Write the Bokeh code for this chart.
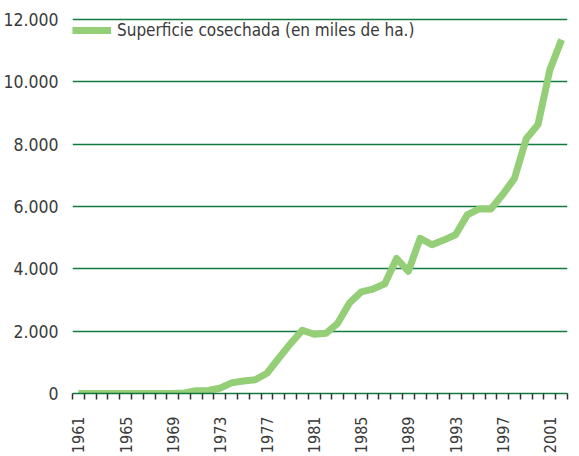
from bokeh.plotting import figure
from bokeh.models import FixedTicker, Range1d, Legend, LegendItem
from bokeh.embed import file_html
from bokeh.resources import INLINE

years = list(range(1961, 2003))
area = [0, 0, 0, 0, 0, 0, 0, 0, 0, 20,
        90, 100, 170, 340, 400, 440, 650, 1130, 1600, 2030,
        1900, 1930, 2250, 2900, 3260, 3350, 3520, 4330, 3920, 4980,
        4770, 4920, 5090, 5730, 5920, 5920, 6380, 6900, 8170, 8630,
        10380, 11350]
series_label = "Superficie cosechada (en miles de ha.)"
y_ticks = [0, 2000, 4000, 6000, 8000, 10000, 12000]
y_tick_labels = ["0", "2.000", "4.000", "6.000", "8.000", "10.000", "12.000"]
x_label_years = list(range(1961, 2002, 4))

FONT = "DejaVu Sans Condensed"
TEXT = "#3a3a3a"
GRID = "#127a3e"
LINE = "#94ce76"

p = figure(width=571, height=456, output_backend="svg", toolbar_location=None,
           x_range=Range1d(1960.5, 2002.5), y_range=Range1d(0, 12060),
           min_border_left=64, min_border_right=4, min_border_top=17,
           min_border_bottom=62)
p.outline_line_color = None
p.background_fill_color = "white"

r = p.line(years, area, line_color=LINE, line_width=7, line_join="round")

# x axis: tick marks at category boundaries, labels at category centres
xa = p.xaxis[0]
xa.ticker = FixedTicker(ticks=x_label_years,
                        minor_ticks=[y - 0.5 for y in range(1961, 2004)])
xa.major_label_overrides = {y: str(y) for y in x_label_years}
xa.major_label_orientation = 3.14159265 / 2
xa.major_tick_out = 0
xa.major_tick_in = 0
xa.minor_tick_out = 6
xa.minor_tick_in = 0
xa.minor_tick_line_color = "#333333"
xa.minor_tick_line_width = 1.5
xa.axis_line_color = GRID
xa.axis_line_width = 1.5
xa.major_label_standoff = 17
xa.major_label_text_font = FONT
xa.major_label_text_font_size = "16px"
xa.major_label_text_color = TEXT

# y axis
ya = p.yaxis[0]
ya.ticker = FixedTicker(ticks=y_ticks)
ya.major_label_overrides = {t: l for t, l in zip(y_ticks, y_tick_labels)}
ya.axis_line_color = None
ya.major_tick_line_color = None
ya.minor_tick_line_color = None
ya.major_label_standoff = 8
ya.major_label_text_font = FONT
ya.major_label_text_font_size = "17.5px"
ya.major_label_text_color = TEXT

p.xgrid.grid_line_color = None
p.ygrid.ticker = FixedTicker(ticks=y_ticks)
p.ygrid.grid_line_color = GRID
p.ygrid.grid_line_width = 1.3

legend = Legend(items=[LegendItem(label=series_label, renderers=[r])],
                location="top_left", margin=0, padding=0,
                glyph_width=39, glyph_height=26, label_standoff=6,
                label_text_font=FONT, label_text_font_size="17px",
                label_text_color=TEXT, background_fill_alpha=0,
                border_line_alpha=0)
p.add_layout(legend)

open("out.html", "w").write(file_html(p, INLINE))
